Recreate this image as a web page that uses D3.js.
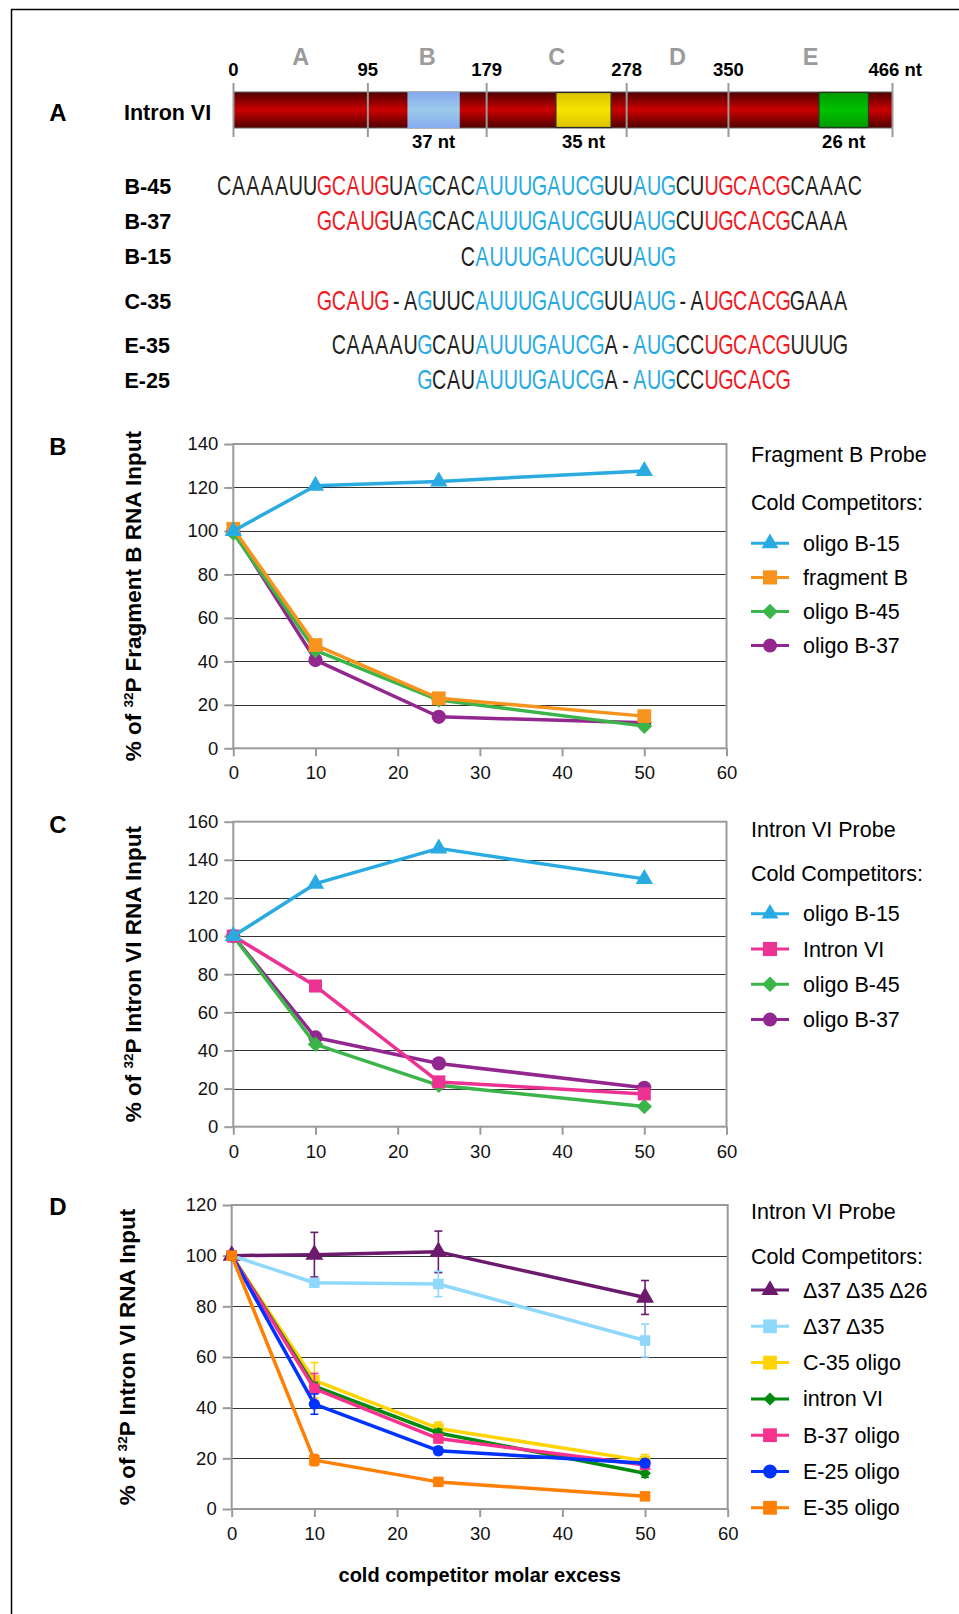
<!DOCTYPE html>
<meta charset="utf-8">
<html>
<head>
<title>Intron VI competition</title>
<script src="https://d3js.org/d3.v7.min.js"></script>
<style>
  body { margin: 0; background: #fff; }
  svg { display: block; font-family: "Liberation Sans", Arial, Helvetica, sans-serif; }
</style>
</head>
<body>
<div id="fig"></div>
<script>
// ---------- panel A data ----------
var segTicks = [0, 95, 179, 278, 350, 466];
var segLetters = ["A", "B", "C", "D", "E"];
var boxStart = [123, 228, 414];
var boxEnd = [160, 267, 449];
var boxLabels = ["37 nt", "35 nt", "26 nt"];

var seqNames = ["B-45", "B-37", "B-15", "C-35", "E-35", "E-25"];
var seqOffsets = [0, 7, 17, 7, 8, 14];
// k = plain, r = red motif, b = blue motif
var seqRuns = [
  [["CAAAAUU","k"],["GCAUG","r"],["UA","k"],["G","b"],["CAC","k"],["AUUUGAUCG","b"],["UU","k"],["AUG","b"],["CU","k"],["UGCACG","r"],["CAAAC","k"]],
  [["GCAUG","r"],["UA","k"],["G","b"],["CAC","k"],["AUUUGAUCG","b"],["UU","k"],["AUG","b"],["CU","k"],["UGCACG","r"],["CAAA","k"]],
  [["C","k"],["AUUUGAUCG","b"],["UU","k"],["AUG","b"]],
  [["GCAUG","r"],["-A","k"],["G","b"],["UUC","k"],["AUUUGAUCG","b"],["UU","k"],["AUG","b"],["-A","k"],["UGCACG","r"],["GAAA","k"]],
  [["CAAAAU","k"],["G","b"],["CAU","k"],["AUUUGAUCG","b"],["A-","k"],["AUG","b"],["CC","k"],["UGCACG","r"],["UUUG","k"]],
  [["G","b"],["CAU","k"],["AUUUGAUCG","b"],["A-","k"],["AUG","b"],["CC","k"],["UGCACG","r"]]
];

// ---------- charts data ----------
var xValues = [0, 10, 25, 50];
var xTicks = [0, 10, 20, 30, 40, 50, 60];

var bNames = ["oligo B-15", "fragment B", "oligo B-45", "oligo B-37"];
var bValues = [
  [100, 120.8, 122.8, 127.6],
  [101, 47.5, 23, 14.8],
  [99, 45, 22.2, 10.2],
  [100, 40.6, 14.5, 11.7]
];

var cNames = ["oligo B-15", "Intron VI", "oligo B-45", "oligo B-37"];
var cValues = [
  [100, 127.5, 146, 130],
  [100, 73.8, 23.5, 17.2],
  [100, 43.2, 21.7, 10.6],
  [100, 46.8, 33.2, 20.4]
];

var dNames = ["\u039437 \u039435 \u039426", "\u039437 \u039435", "C-35 oligo", "intron VI", "B-37 oligo", "E-25 oligo", "E-35 oligo"];
var dValues = [
  [100, 100.4, 101.5, 83.5],
  [100, 89.3, 88.8, 66.5],
  [100, 50.8, 31.8, 19],
  [100, 48.5, 30, 14.1],
  [100, 47.5, 27.8, 17.4],
  [100, 41.4, 23, 18.1],
  [100, 19.3, 10.7, 5]
];
var dErrors = [
  [0, 8.8, 8.2, 6.7],
  [0, 1.2, 5, 6.5],
  [0, 7, 2.5, 2.5],
  [0, 1.5, 1.5, 1.6],
  [0, 6, 1.5, 1.5],
  [0, 4, 1.5, 1.5],
  [0, 2.2, 1, 0.8]
];

// ---------- styles ----------
var seqColor = { k: "#231f20", r: "#ed1c24", b: "#27aae1" };
var bColors = ["#29aae1", "#f7941d", "#3bb54a", "#92278f"];
var cColors = ["#29aae1", "#ec3393", "#3bb54a", "#92278f"];
var dColors = ["#6b1a6c", "#8fd7fb", "#ffd400", "#008a0e", "#f7338f", "#0033ff", "#ff7f00"];
var bShapes = ["triangle", "square", "diamond", "circle"];
var cShapes = ["triangle", "square", "diamond", "circle"];
var dShapes = ["triangle", "square", "square", "diamond", "square", "circle", "square"];

var W = 959, H = 1614;
var svg = d3.select("#fig").append("svg").attr("width", W).attr("height", H);

// frame (cropped figure box)
svg.append("line").attr("x1", 11).attr("x2", W).attr("y1", 9.5).attr("y2", 9.5)
  .attr("stroke", "#000").attr("stroke-width", 1.5);
svg.append("line").attr("x1", 11.5).attr("x2", 11.5).attr("y1", 9).attr("y2", H)
  .attr("stroke", "#000").attr("stroke-width", 1.5);

// panel letters
var panelLetters = ["A", "B", "C", "D"];
var letterY = [121, 455, 833, 1215];
svg.selectAll(".plet").data(panelLetters).join("text")
  .attr("x", 58).attr("y", function(d, i) { return letterY[i]; })
  .attr("text-anchor", "middle").attr("font-weight", "bold").attr("font-size", 24)
  .text(function(d) { return d; });

// ---------- panel A ----------
var defs = svg.append("defs");
function vGrad(id, edge, mid) {
  var g = defs.append("linearGradient").attr("id", id)
    .attr("x1", 0).attr("x2", 0).attr("y1", 0).attr("y2", 1);
  g.append("stop").attr("offset", "0%").attr("stop-color", edge);
  g.append("stop").attr("offset", "50%").attr("stop-color", mid);
  g.append("stop").attr("offset", "100%").attr("stop-color", edge);
}
vGrad("gRed", "#4e0000", "#cc0000");
vGrad("gBlue", "#86aaf0", "#9bcbe9");
vGrad("gYel", "#dcc200", "#f5e400");
vGrad("gGrn", "#009a00", "#00c200");

var nt = d3.scaleLinear().domain([0, 466]).range([233.5, 892.5]);
var barTop = 92, barH = 36;

svg.append("text").attr("x", 124).attr("y", 120)
  .attr("font-weight", "bold").attr("font-size", 21.5).text("Intron VI");

svg.append("rect").attr("x", nt(0)).attr("y", barTop)
  .attr("width", nt(466) - nt(0)).attr("height", barH)
  .attr("fill", "url(#gRed)").attr("stroke", "#666").attr("stroke-width", 1);

var boxFills = ["url(#gBlue)", "url(#gYel)", "url(#gGrn)"];
var boxStroke = ["none", "#2a2a2a", "#1d3d1d"];
svg.selectAll(".nbox").data(boxStart).join("rect")
  .attr("x", function(d) { return nt(d); })
  .attr("y", function(d, i) { return i === 0 ? barTop : barTop + 0.5; })
  .attr("width", function(d, i) { return nt(boxEnd[i]) - nt(d); })
  .attr("height", function(d, i) { return i === 0 ? barH : barH - 1; })
  .attr("fill", function(d, i) { return boxFills[i]; })
  .attr("stroke", function(d, i) { return boxStroke[i]; })
  .attr("stroke-width", 1.2);

svg.selectAll(".ntick").data(segTicks).join("line")
  .attr("x1", function(d) { return nt(d); }).attr("x2", function(d) { return nt(d); })
  .attr("y1", 83).attr("y2", 137)
  .attr("stroke", "#9a9a9a").attr("stroke-width", 2);

svg.selectAll(".nlab").data(segTicks).join("text")
  .attr("x", function(d, i) { return i === segTicks.length - 1 ? nt(d) - 24 : nt(d); })
  .attr("y", 76)
  .attr("text-anchor", function(d, i) { return i === segTicks.length - 1 ? "start" : "middle"; })
  .attr("font-weight", "bold").attr("font-size", 18.5)
  .text(function(d, i) { return i === segTicks.length - 1 ? d + " nt" : d; });

svg.selectAll(".slet").data(segLetters).join("text")
  .attr("x", function(d, i) { return nt((segTicks[i] + segTicks[i + 1]) / 2); })
  .attr("y", 65).attr("text-anchor", "middle")
  .attr("font-weight", "bold").attr("font-size", 23.5).attr("fill", "#9b9b9b")
  .text(function(d) { return d; });

svg.selectAll(".blab").data(boxLabels).join("text")
  .attr("x", function(d, i) { return nt((boxStart[i] + boxEnd[i]) / 2); })
  .attr("y", 148).attr("text-anchor", "middle")
  .attr("font-weight", "bold").attr("font-size", 18.5)
  .text(function(d) { return d; });

// sequences
var seqX = d3.scaleLinear().domain([0, 45]).range([217, 862]);
var seqY = [193.5, 228.5, 264, 308.5, 352.5, 387.5];
seqNames.forEach(function(name, r) {
  svg.append("text").attr("x", 124.5).attr("y", seqY[r])
    .attr("font-weight", "bold").attr("font-size", 21.5).text(name);
  var chars = [];
  seqRuns[r].forEach(function(run) {
    run[0].split("").forEach(function(c) { chars.push({ c: c, k: run[1] }); });
  });
  svg.append("g").selectAll("text").data(chars).join("text")
    .attr("transform", function(d, i) {
      return "translate(" + seqX(seqOffsets[r] + i + 0.5) + "," + (seqY[r] + 1.5) + ") scale(0.73,1)";
    })
    .attr("text-anchor", "middle").attr("font-size", 27)
    .attr("fill", function(d) { return seqColor[d.k]; })
    .text(function(d) { return d.c; });
});

// ---------- charts ----------
function symbolPath(shape, size) {
  if (shape === "triangle") return d3.symbol().type(d3.symbolTriangle).size(size)();
  if (shape === "circle") return d3.symbol().type(d3.symbolCircle).size(size)();
  return d3.symbol().type(d3.symbolSquare).size(size)();
}

function drawPanel(p) {
  var x = d3.scaleLinear().domain([0, 60]).range([p.left, p.right]);
  var y = d3.scaleLinear().domain([0, p.ymax]).range([p.bottom, p.top]);
  var yTicks = d3.range(0, p.ymax + 1, 20);
  var g = svg.append("g");

  g.selectAll(".grid").data(yTicks.filter(function(v) { return v > 0 && v < p.ymax; }))
    .join("line")
    .attr("x1", p.left).attr("x2", p.right)
    .attr("y1", function(d) { return Math.round(y(d)) + 0.5; })
    .attr("y2", function(d) { return Math.round(y(d)) + 0.5; })
    .attr("stroke", "#333").attr("stroke-width", 1.2);

  g.append("rect").attr("x", p.left).attr("y", p.top)
    .attr("width", p.right - p.left).attr("height", p.bottom - p.top)
    .attr("fill", "none").attr("stroke", "#9a9a9a").attr("stroke-width", 2);

  var ya = g.append("g").attr("transform", "translate(" + p.left + ",0)")
    .call(d3.axisLeft(y).tickValues(yTicks).tickSize(9).tickPadding(6));
  var xa = g.append("g").attr("transform", "translate(0," + p.bottom + ")")
    .call(d3.axisBottom(x).tickValues(xTicks).tickSize(8).tickPadding(10));
  [ya, xa].forEach(function(a) {
    a.attr("font-family", null).attr("font-size", 18.5);
    a.select(".domain").remove();
    a.selectAll(".tick line").attr("stroke", "#9a9a9a").attr("stroke-width", 2);
    a.selectAll(".tick text").attr("fill", "#111");
  });

  // y title with superscript
  var t = g.append("text")
    .attr("transform", "translate(" + p.titleX + "," + (p.top + p.bottom) / 2 + ") rotate(-90)")
    .attr("text-anchor", "middle").attr("font-weight", "bold").attr("font-size", 22.5);
  t.append("tspan").text("% of ");
  t.append("tspan").attr("font-size", 13.5).attr("dy", -8).text("32");
  t.append("tspan").attr("dy", 8).text("P " + p.titleText);

  var line = d3.line()
    .x(function(d, i) { return x(xValues[i]); })
    .y(function(d) { return y(d); });

  var order = d3.range(p.values.length);
  if (p.reverse) order.reverse();

  order.forEach(function(s) {
    var sg = g.append("g");
    var col = p.colors[s];
    if (p.errors) {
      var pts = p.values[s].map(function(v, i) { return { x: xValues[i], v: v, e: p.errors[s][i] }; })
        .filter(function(d) { return d.e > 0; });
      var eb = sg.selectAll(".eb").data(pts).join("g");
      eb.append("line")
        .attr("x1", function(d) { return x(d.x); }).attr("x2", function(d) { return x(d.x); })
        .attr("y1", function(d) { return y(d.v + d.e); }).attr("y2", function(d) { return y(d.v - d.e); })
        .attr("stroke", col).attr("stroke-width", 1.6);
      [1, -1].forEach(function(sign) {
        eb.append("line")
          .attr("x1", function(d) { return x(d.x) - 4; }).attr("x2", function(d) { return x(d.x) + 4; })
          .attr("y1", function(d) { return y(d.v + sign * d.e); })
          .attr("y2", function(d) { return y(d.v + sign * d.e); })
          .attr("stroke", col).attr("stroke-width", 1.6);
      });
    }
    sg.append("path").datum(p.values[s]).attr("d", line)
      .attr("fill", "none").attr("stroke", col).attr("stroke-width", 3.5)
      .attr("stroke-linejoin", "round");
    var shape = p.shapes[s];
    sg.selectAll(".mk").data(p.values[s]).join("path")
      .attr("transform", function(d, i) {
        return "translate(" + x(xValues[i]) + "," + y(d) + ")" + (shape === "diamond" ? " rotate(45)" : "");
      })
      .attr("d", symbolPath(shape, p.msize[shape]))
      .attr("fill", col);
  });

  // legend
  var lg = g.append("g");
  lg.append("text").attr("x", 751).attr("y", p.legTitleY).attr("font-size", 21.5).text(p.probe);
  lg.append("text").attr("x", 751).attr("y", p.legColdY).attr("font-size", 21.5).text("Cold Competitors:");
  p.names.forEach(function(name, i) {
    var cy = p.legY0 + i * p.legStep;
    lg.append("line").attr("x1", 751).attr("x2", 789).attr("y1", cy).attr("y2", cy)
      .attr("stroke", p.colors[i]).attr("stroke-width", 3);
    var shape = p.shapes[i];
    lg.append("path")
      .attr("transform", "translate(770," + cy + ")" + (shape === "diamond" ? " rotate(45)" : ""))
      .attr("d", symbolPath(shape, p.lsize[shape]))
      .attr("fill", p.colors[i]);
    lg.append("text").attr("x", 803).attr("y", cy + 7.5).attr("font-size", 21.5).text(name);
  });
}

drawPanel({
  left: 233.3, right: 726.5, top: 444, bottom: 748.3, ymax: 140,
  titleX: 141, titleText: "Fragment B RNA Input",
  values: bValues, names: bNames, colors: bColors, shapes: bShapes, reverse: true,
  msize: { triangle: 130, square: 190, diamond: 120, circle: 160 },
  lsize: { triangle: 125, square: 200, diamond: 120, circle: 155 },
  probe: "Fragment B Probe", legTitleY: 461.5, legColdY: 509.5, legY0: 543.3, legStep: 34.1
});

drawPanel({
  left: 233.3, right: 726.5, top: 821.7, bottom: 1126.7, ymax: 160,
  titleX: 141, titleText: "Intron VI RNA Input",
  values: cValues, names: cNames, colors: cColors, shapes: cShapes, reverse: true,
  msize: { triangle: 130, square: 170, diamond: 120, circle: 160 },
  lsize: { triangle: 125, square: 200, diamond: 120, circle: 155 },
  probe: "Intron VI Probe", legTitleY: 837, legColdY: 881, legY0: 913.7, legStep: 35.3
});

drawPanel({
  left: 231.7, right: 727.7, top: 1205, bottom: 1509, ymax: 120,
  titleX: 135, titleText: "Intron VI RNA Input",
  values: dValues, names: dNames, colors: dColors, shapes: dShapes, errors: dErrors, reverse: false,
  msize: { triangle: 140, square: 110, diamond: 70, circle: 100 },
  lsize: { triangle: 125, square: 190, diamond: 85, circle: 150 },
  probe: "Intron VI Probe", legTitleY: 1219, legColdY: 1264, legY0: 1290, legStep: 36.3
});

svg.append("text").attr("x", 479.7).attr("y", 1582)
  .attr("text-anchor", "middle").attr("font-weight", "bold").attr("font-size", 20)
  .text("cold competitor molar excess");
</script>
</body>
</html>
